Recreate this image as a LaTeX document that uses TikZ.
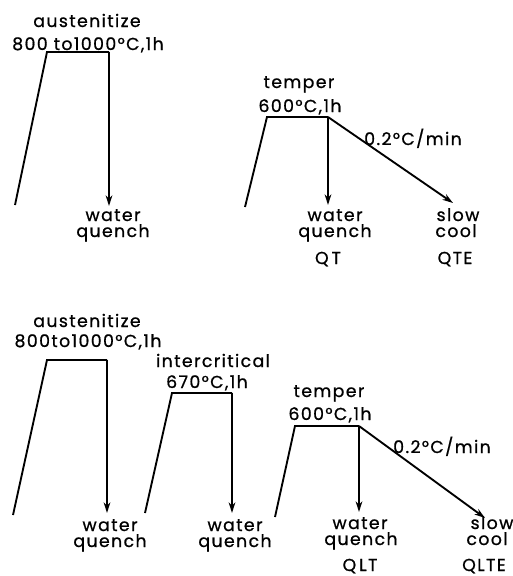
\documentclass[tikz,border=0pt]{standalone}
\usepackage{fontspec}
\setmainfont{Poppins}[LetterSpace=8,FakeBold=0.8]
\usetikzlibrary{arrows.meta}

\begin{document}
\begin{tikzpicture}[x=0.75pt,y=-0.75pt,
 txt/.style={anchor=base,inner sep=0pt,font=\fontsize{13}{13}\selectfont},
 profile/.style={line width=1.4pt,line join=miter},
 arr/.style={profile,-{Stealth[length=8pt,width=5pt]}}]
\useasboundingbox (0,0) rectangle (512,576);
% top row: quench, then temper (QT, QTE)
\node[txt] (ausA) at (87,27) {austenitize};
\node[txt] (ausAt) at (88,50) {800 to1000°C,1h};
\coordinate (rA) at (15,205); \coordinate (pA) at (47,52); \coordinate (qA) at (109,52); \coordinate (eA) at (109,206);
\node[txt] (watA) at (113,221) {water};
\node[txt] (queA) at (113,237) {quench};
\draw[profile] (rA)--(pA)--(qA);
\draw[arr] (qA)--(eA);

\node[txt] (temB) at (299,88) {temper};
\node[txt] (temBt) at (300,112) {600°C,1h};
\coordinate (rB) at (245,207); \coordinate (pB) at (267,117); \coordinate (qB) at (328,117);
\coordinate (eB) at (328,205); \coordinate (fB) at (453,203);
\node[txt] (rateB) at (413,145) {0.2°C/min};
\node[txt] (watB) at (335,221) {water};
\node[txt] (queB) at (335,237) {quench};
\node[txt] (slowB) at (458,221) {slow};
\node[txt] (coolB) at (456,237) {cool};
\node[txt] (qt) at (328,264) {Q\,T};
\node[txt] (qte) at (455,264) {QTE};
\draw[profile] (rB)--(pB)--(qB);
\draw[arr] (qB)--(eB);
\draw[arr] (qB)--(fB);

% bottom row: quench, intercritical, temper (QLT, QLTE)
\node[txt] (ausC) at (87,327) {austenitize};
\node[txt] (ausCt) at (88,347) {800to1000°C,1h};
\coordinate (rC) at (13,515); \coordinate (pC) at (47,360); \coordinate (qC) at (107,360); \coordinate (eC) at (107,513);
\node[txt] (watC) at (110,531) {water};
\node[txt] (queC) at (110,547) {quench};
\draw[profile] (rC)--(pC)--(qC);
\draw[arr] (qC)--(eC);

\node[txt] (intD) at (213,367) {intercritical};
\node[txt] (intDt) at (207,388) {670°C,1h};
\coordinate (rD) at (145,513); \coordinate (pD) at (172,393); \coordinate (qD) at (232,393); \coordinate (eD) at (232,513);
\node[txt] (watD) at (235,531) {water};
\node[txt] (queD) at (235,547) {quench};
\draw[profile] (rD)--(pD)--(qD);
\draw[arr] (qD)--(eD);

\node[txt] (temE) at (329,397) {temper};
\node[txt] (temEt) at (330,420) {600°C,1h};
\coordinate (rE) at (275,517); \coordinate (pE) at (295,426); \coordinate (qE) at (359,426);
\coordinate (eE) at (359,512); \coordinate (fE) at (485,518);
\node[txt] (rateE) at (442,453) {0.2°C/min};
\node[txt] (watE) at (360,529) {water};
\node[txt] (queE) at (361,545) {quench};
\node[txt] (slowE) at (492,529) {slow};
\node[txt] (coolE) at (487,545) {cool};
\node[txt] (qlt) at (360,571) {Q\,LT};
\node[txt] (qlte) at (484,571) {QLTE};
\draw[profile] (rE)--(pE)--(qE);
\draw[arr] (qE)--(eE);
\draw[arr] (qE)--(fE);
\end{tikzpicture}
\end{document}
